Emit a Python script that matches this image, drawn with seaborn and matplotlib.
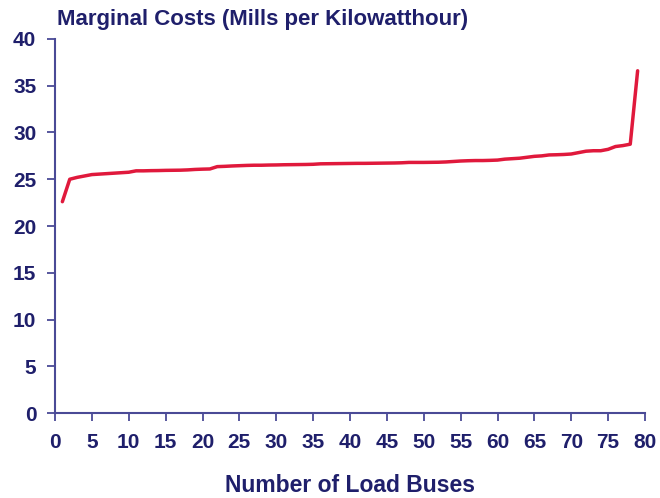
import numpy as np
import pandas as pd
import seaborn as sns
import matplotlib.pyplot as plt

# marginal cost per load bus, sorted ascending
buses = list(range(1, 80))
costs = [22.6, 25.0, 25.2, 25.35, 25.5, 25.55, 25.6, 25.65, 25.7, 25.75,
         25.9, 25.9, 25.92, 25.93, 25.95, 25.96, 25.97, 26.0, 26.05, 26.08,
         26.1, 26.35, 26.38, 26.42, 26.45, 26.48, 26.5, 26.5, 26.52, 26.53,
         26.55, 26.56, 26.57, 26.58, 26.6, 26.65, 26.66, 26.67, 26.68, 26.69,
         26.7, 26.7, 26.71, 26.72, 26.73, 26.74, 26.76, 26.8, 26.8, 26.8,
         26.81, 26.82, 26.85, 26.9, 26.95, 26.98, 27.0, 27.0, 27.02, 27.05,
         27.15, 27.2, 27.25, 27.35, 27.45, 27.5, 27.6, 27.62, 27.65, 27.7,
         27.85, 28.0, 28.05, 28.05, 28.2, 28.5, 28.6, 28.75, 36.6]
xticks = list(range(0, 81, 5))
yticks = list(range(0, 41, 5))

navy = '#1f1f6b'
spine_col = '#4a4a96'
red = '#e0193c'

sns.set_style("ticks")
plt.rcParams['font.family'] = ['Liberation Sans', 'DejaVu Sans']
plt.rcParams['font.weight'] = 'bold'

df = pd.DataFrame({'bus': buses, 'cost': costs})

fig = plt.figure(figsize=(6.6, 4.98), dpi=100)
ax = fig.add_axes([55/660, 1-413/498, (645-55)/660, (413-39)/498])
sns.lineplot(data=df, x='bus', y='cost', color=red, linewidth=2.5, ax=ax)

ax.set_xlim(0, 80)
ax.set_ylim(0, 40)
ax.set_xticks(xticks)
ax.set_yticks(yticks)
ax.tick_params(colors=spine_col, labelcolor=navy, labelsize=15, length=5.5, width=1.3)
ax.tick_params(axis='x', pad=9)
ax.tick_params(axis='y', pad=8)
for s in ['left', 'bottom']:
    ax.spines[s].set_color(spine_col)
    ax.spines[s].set_linewidth(1.5)
sns.despine(ax=ax)
ax.set_ylabel('')
ax.set_xlabel('Number of Load Buses', color=navy, fontsize=16.5, fontweight='bold', labelpad=16)
fig.text(57/660, 1-19/498, 'Marginal Costs (Mills per Kilowatthour)', color=navy,
         fontsize=16, fontweight='bold', va='center', ha='left')

fig.savefig('out.png', dpi=100)
